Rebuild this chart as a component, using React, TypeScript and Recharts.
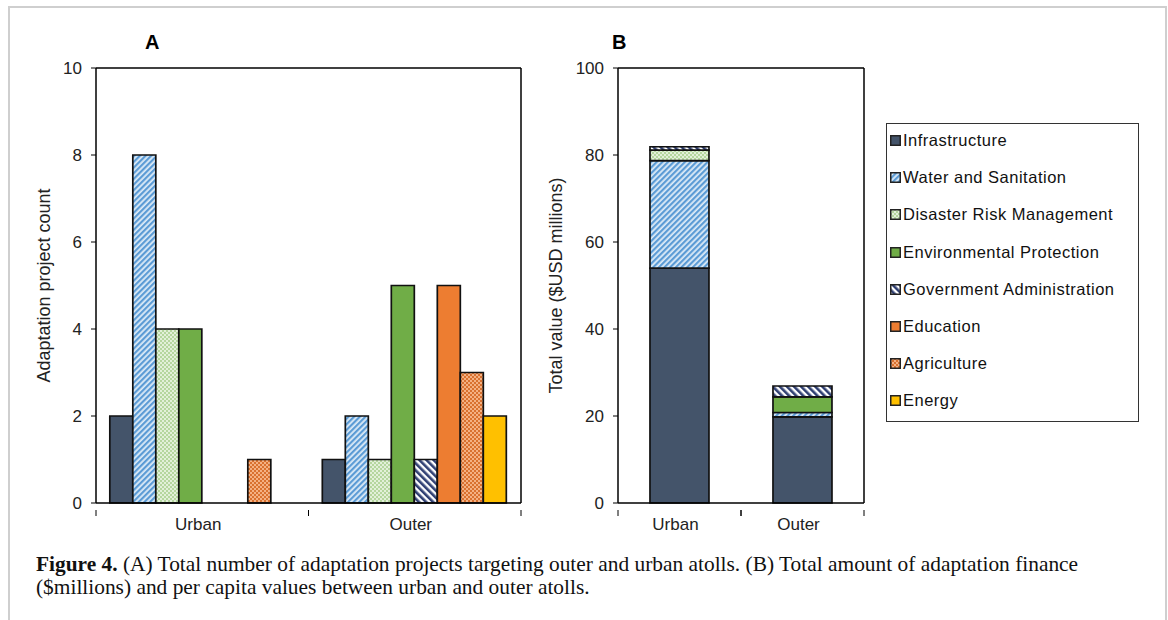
import React from "react";
import { BarChart, Bar, XAxis, YAxis, CartesianGrid } from "recharts";

// categories and series
const atolls = ["Urban", "Outer"];
const sectors = [
  "Infrastructure",
  "Water and Sanitation",
  "Disaster Risk Management",
  "Environmental Protection",
  "Government Administration",
  "Education",
  "Agriculture",
  "Energy",
];
const sectorKeys = ["infra", "water", "drm", "env", "gov", "edu", "agri", "energy"];
const sectorFills = [
  "#44546A",
  "url(#patWater)",
  "url(#patDrm)",
  "#70AD47",
  "url(#patGov)",
  "#ED7D31",
  "url(#patAgri)",
  "#FFC000",
];

// panel A: project counts, one value per atoll
const infraCount = [2, 1];
const waterCount = [8, 2];
const drmCount = [4, 1];
const envCount = [4, 5];
const govCount = [0, 1];
const eduCount = [0, 5];
const agriCount = [1, 3];
const energyCount = [0, 2];

// panel B: total value, $USD millions
const infraValue = [54, 19.8];
const waterValue = [24.7, 1.0];
const drmValue = [2.4, 0];
const envValue = [0, 3.6];
const govValue = [0.8, 2.5];
const eduValue = [0, 0];
const agriValue = [0, 0];
const energyValue = [0, 0];

const countTicks = [0, 2, 4, 6, 8, 10];
const valueTicks = [0, 20, 40, 60, 80, 100];

const countSeries = [infraCount, waterCount, drmCount, envCount, govCount, eduCount, agriCount, energyCount];
const valueSeries = [infraValue, waterValue, drmValue, envValue, govValue, eduValue, agriValue, energyValue];

const buildRows = (series: number[][]) =>
  atolls.map((name, i) => {
    const row: Record<string, any> = { name };
    sectorKeys.forEach((k, j) => (row[k] = series[j][i]));
    return row;
  });

const countData = buildRows(countSeries);
const valueData = buildRows(valueSeries);

const FONT = "'Liberation Sans', Arial, sans-serif";
const tickStyle = { fontSize: 17, fill: "#222", fontFamily: FONT };
const titleStyle = { textAnchor: "middle", fontSize: 18, fill: "#222", fontFamily: FONT };

// category label in the middle, tick marks on the category edges (Excel style)
const EdgeTick = (props: any) => {
  const { x, y, payload, half } = props;
  return (
    <g>
      <line x1={x - half} x2={x - half} y1={y - 1} y2={y + 5} stroke="#000" strokeWidth={1} />
      <line x1={x + half} x2={x + half} y1={y - 1} y2={y + 5} stroke="#000" strokeWidth={1} />
      <text x={x - 4} y={y + 19} textAnchor="middle" {...tickStyle}>
        {payload.value}
      </text>
    </g>
  );
};

// top and right edges of the plot frame
const frameTop = ({ offset }: any) => [offset.top];
const frameRight = ({ offset }: any) => [offset.left + offset.width];

const Patterns = () => (
  <svg width={0} height={0} style={{ position: "absolute" }}>
    <defs>
      <pattern id="patWater" width={4} height={4} patternUnits="userSpaceOnUse" patternTransform="rotate(45)">
        <rect width={4} height={4} fill="#DDEBF7" />
        <rect width={2.2} height={4} fill="#5B9BD5" />
      </pattern>
      <pattern id="patGov" width={5} height={5} patternUnits="userSpaceOnUse" patternTransform="rotate(-45)">
        <rect width={5} height={5} fill="#FFFFFF" />
        <rect width={2.6} height={5} fill="#2F3F72" />
      </pattern>
      <pattern id="patDrm" width={4} height={4} patternUnits="userSpaceOnUse">
        <rect width={4} height={4} fill="#E2F0D9" />
        <rect width={2} height={2} fill="#B5D69F" />
        <rect x={2} y={2} width={2} height={2} fill="#B5D69F" />
      </pattern>
      <pattern id="patAgri" width={4} height={4} patternUnits="userSpaceOnUse">
        <rect width={4} height={4} fill="#F4B183" />
        <rect width={2} height={2} fill="#D9712F" />
        <rect x={2} y={2} width={2} height={2} fill="#D9712F" />
      </pattern>
    </defs>
  </svg>
);

const LegendBox = () => (
  <div
    style={{
      position: "absolute",
      left: 886,
      top: 123,
      width: 251,
      height: 297,
      border: "1.5px solid #333",
      background: "#fff",
    }}
  >
    {sectors.map((s, i) => (
      <div key={s} style={{ display: "flex", alignItems: "center", height: 37.2, paddingLeft: 3, marginTop: i === 0 ? -2 : 0 }}>
        <svg width={11} height={11} style={{ marginRight: 2 }}>
          <rect x={0.75} y={0.75} width={9.5} height={9.5} fill={sectorFills[i]} stroke="#222" strokeWidth={1.5} />
        </svg>
        <span style={{ fontFamily: FONT, fontSize: 16.5, letterSpacing: 0.5, color: "#111" }}>{s}</span>
      </div>
    ))}
  </div>
);

export default function App() {
  return (
    <div style={{ position: "absolute", left: 0, top: 0, width: 1168, height: 620, background: "#fff", overflow: "hidden" }}>
      <Patterns />
      <div
        style={{
          position: "absolute",
          left: 8,
          top: 6,
          width: 1155,
          height: 640,
          border: "2px solid #cfcfcf",
        }}
      />

      {/* panel A */}
      <div style={{ position: "absolute", left: 0, top: 0 }}>
        <BarChart
          width={560}
          height={540}
          data={countData}
          margin={{ top: 68, right: 39, bottom: 7, left: 36 }}
          barGap={0}
          barCategoryGap="6.5%"
        >
          <CartesianGrid
            stroke="#000"
            strokeWidth={1.5}
            horizontalCoordinatesGenerator={frameTop}
            verticalCoordinatesGenerator={frameRight}
          />
          <XAxis
            dataKey="name"
            axisLine={{ stroke: "#000", strokeWidth: 1.5 }}
            tickLine={false}
            height={30}
            tick={<EdgeTick half={106.25} />}
          />
          <YAxis
            domain={[0, 10]}
            ticks={countTicks}
            width={60}
            tickSize={5}
            tickLine={{ stroke: "#000" }}
            axisLine={{ stroke: "#000", strokeWidth: 1.5 }}
            tick={tickStyle}
            tickMargin={9}
            label={{
              value: "Adaptation project count",
              angle: -90,
              position: "insideLeft",
              offset: 8,
              style: titleStyle,
            }}
          />
          {sectorKeys.map((k, i) => (
            <Bar
              key={k}
              dataKey={k}
              name={sectors[i]}
              fill={sectorFills[i]}
              stroke="#111"
              strokeWidth={1.7}
              isAnimationActive={false}
            />
          ))}
        </BarChart>
      </div>

      {/* panel B */}
      <div style={{ position: "absolute", left: 540, top: 0 }}>
        <BarChart
          width={360}
          height={540}
          data={valueData}
          margin={{ top: 68, right: 36, bottom: 7, left: 8 }}
          barCategoryGap="26%"
        >
          <CartesianGrid
            stroke="#000"
            strokeWidth={1.5}
            horizontalCoordinatesGenerator={frameTop}
            verticalCoordinatesGenerator={frameRight}
          />
          <XAxis
            dataKey="name"
            axisLine={{ stroke: "#000", strokeWidth: 1.5 }}
            tickLine={false}
            height={30}
            tick={<EdgeTick half={61.5} />}
          />
          <YAxis
            domain={[0, 100]}
            ticks={valueTicks}
            width={70}
            tickSize={5}
            tickLine={{ stroke: "#000" }}
            axisLine={{ stroke: "#000", strokeWidth: 1.5 }}
            tick={tickStyle}
            tickMargin={9}
            label={{
              value: "Total value ($USD millions)",
              angle: -90,
              position: "insideLeft",
              offset: 8,
              style: titleStyle,
            }}
          />
          {sectorKeys.map((k, i) => (
            <Bar
              key={k}
              dataKey={k}
              name={sectors[i]}
              stackId="total"
              fill={sectorFills[i]}
              stroke="#111"
              strokeWidth={1.7}
              isAnimationActive={false}
            />
          ))}
        </BarChart>
      </div>

      <LegendBox />

      <div style={{ position: "absolute", left: 145, top: 31, fontFamily: FONT, fontWeight: 700, fontSize: 20 }}>A</div>
      <div style={{ position: "absolute", left: 612, top: 31, fontFamily: FONT, fontWeight: 700, fontSize: 20 }}>B</div>

      <div
        style={{
          position: "absolute",
          left: 36,
          top: 553,
          width: 1125,
          whiteSpace: "nowrap",
          fontFamily: "'Liberation Serif', 'Times New Roman', serif",
          fontSize: 21.4,
          lineHeight: "23px",
          color: "#111",
        }}
      >
        <b>Figure 4.</b> (A) Total number of adaptation projects targeting outer and urban atolls. (B) Total amount of adaptation finance
        <br />
        ($millions) and per capita values between urban and outer atolls.
      </div>
    </div>
  );
}
